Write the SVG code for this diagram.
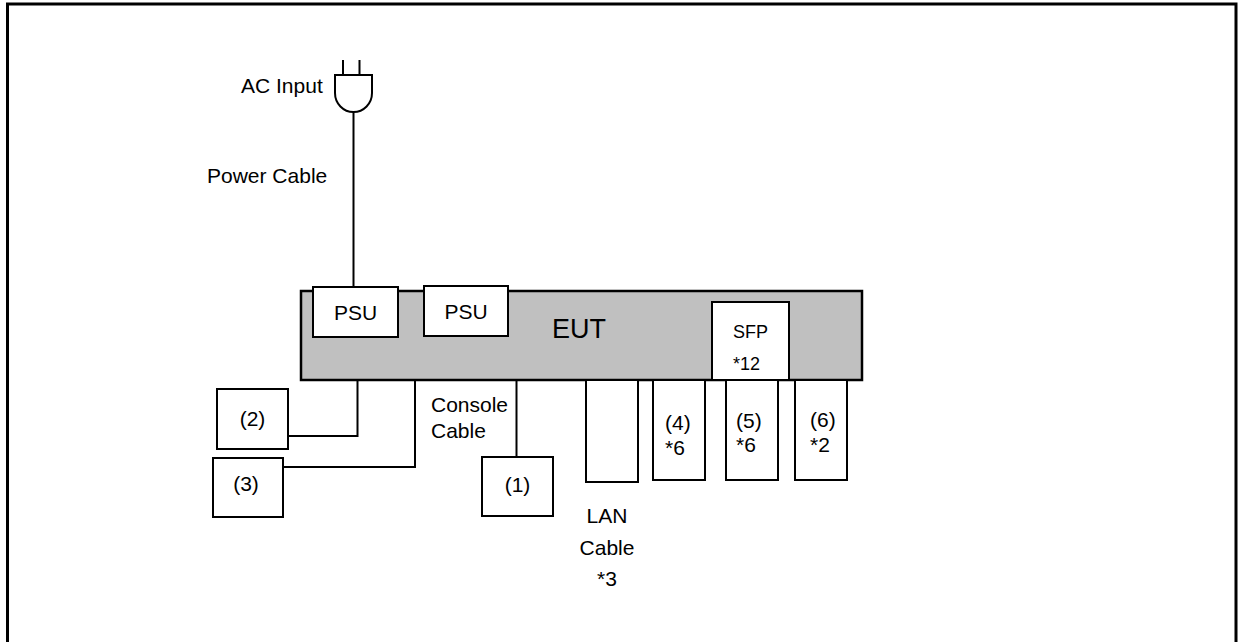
<svg xmlns="http://www.w3.org/2000/svg" width="1239" height="642" viewBox="0 0 1239 642">
<style>
text{font-family:"Liberation Sans",Arial,sans-serif;font-size:21px;fill:#000}
.box{fill:#fff;stroke:#000;stroke-width:2}
.ln{fill:none;stroke:#000;stroke-width:2}
</style>
<rect width="1239" height="642" fill="#fff"/>
<path d="M7.5,642 V4 H1236 V642" fill="none" stroke="#000" stroke-width="3"/>
<g id="connectors">
<line class="ln" x1="353.5" y1="112" x2="353.5" y2="287" stroke-width="2.5"/>
<path class="ln" d="M357.5,380 V436 H288"/>
<path class="ln" d="M415,380 V467 H283"/>
<path class="ln" d="M516.5,380 V457"/>
</g>
<g id="plug">
<path class="ln" d="M343,60 V75 M359.5,60 V75"/>
<path class="ln" d="M335,75 H372 V93 A18.5,19 0 0 1 335,93 Z" fill="#fff"/>
<text x="241" y="93">AC Input</text>
<text x="207" y="183">Power Cable</text>
</g>
<g id="eut">
<rect x="301" y="291" width="561" height="89" fill="#c0c0c0" stroke="#000" stroke-width="2.5"/>
<text x="579" y="338" text-anchor="middle" style="font-size:27px">EUT</text>
</g>
<g id="psu1">
<rect class="box" x="313" y="287" width="85" height="50"/>
<text x="355.5" y="320" text-anchor="middle">PSU</text>
</g>
<g id="psu2">
<rect class="box" x="424" y="286" width="84" height="50"/>
<text x="466" y="319" text-anchor="middle">PSU</text>
</g>
<g id="sfp">
<rect class="box" x="712" y="302" width="77" height="78"/>
<text x="733" y="338" style="font-size:18px">SFP</text>
<text x="733" y="370" style="font-size:18px">*12</text>
</g>
<g id="n2">
<rect class="box" x="217" y="389" width="71" height="60"/>
<text x="252.5" y="426" text-anchor="middle">(2)</text>
</g>
<g id="n3">
<rect class="box" x="213" y="458" width="70" height="59"/>
<text x="246" y="491" text-anchor="middle">(3)</text>
</g>
<g id="console-label">
<text x="431" y="412">Console</text>
<text x="431" y="438">Cable</text>
</g>
<g id="n1">
<rect class="box" x="482" y="457" width="71" height="59"/>
<text x="517.5" y="492" text-anchor="middle">(1)</text>
</g>
<g id="lan">
<rect class="box" x="586" y="380" width="52" height="102"/>
<text x="607" y="523" text-anchor="middle">LAN</text>
<text x="607" y="555" text-anchor="middle">Cable</text>
<text x="607" y="586" text-anchor="middle">*3</text>
</g>
<g id="n4">
<rect class="box" x="653" y="380" width="52" height="100"/>
<text x="665" y="430">(4)</text>
<text x="665" y="455">*6</text>
</g>
<g id="n5">
<rect class="box" x="726" y="380" width="52" height="100"/>
<text x="736" y="428">(5)</text>
<text x="736" y="452">*6</text>
</g>
<g id="n6">
<rect class="box" x="795" y="380" width="52" height="100"/>
<text x="810" y="427">(6)</text>
<text x="810" y="452">*2</text>
</g>
</svg>
